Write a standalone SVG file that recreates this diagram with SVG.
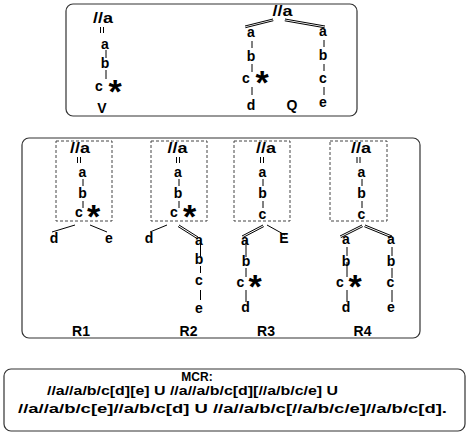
<svg xmlns="http://www.w3.org/2000/svg" width="466" height="435" viewBox="0 0 466 435">
  <style>
    text { font-family: "Liberation Sans", Arial, sans-serif; font-weight: bold; fill: #000; }
    .n { font-size: 14px; text-anchor: middle; }
    .star { font-size: 34px; text-anchor: middle; }
    .mcr { font-size: 12px; }
    .panel { fill: #fff; stroke: #333; stroke-width: 1.2; }
    .query { fill: none; stroke: #444; stroke-width: 1; stroke-dasharray: 3 2; }
    #edges line { stroke: #000; stroke-width: 1; }
  </style>

  <!-- panels -->
  <rect class="panel" x="66" y="4" width="291" height="112" rx="7"/>
  <rect class="panel" x="22" y="138" width="398" height="200" rx="7"/>
  <rect class="panel" x="4" y="369" width="461" height="62" rx="7"/>

  <!-- dashed query boxes -->
  <g id="queries">
    <rect class="query" x="56" y="141" width="56" height="80"/>
    <rect class="query" x="151" y="141" width="56" height="80"/>
    <rect class="query" x="234" y="141" width="56" height="80"/>
    <rect class="query" x="330" y="141" width="57" height="80"/>
  </g>

  <g id="edges">
    <!-- V -->
    <line x1="100.5" y1="27" x2="100.5" y2="33"/><line x1="103.5" y1="27" x2="103.5" y2="33"/>
    <line x1="106" y1="50" x2="106" y2="58"/>
    <line x1="106" y1="70" x2="106" y2="79"/>
    <!-- Q -->
    <line x1="245" y1="26" x2="273" y2="19"/><line x1="245.4" y1="27.7" x2="273.4" y2="20.7"/>
    <line x1="285" y1="19" x2="325" y2="26"/><line x1="284.7" y1="20.8" x2="324.7" y2="27.8"/>
    <line x1="252" y1="41" x2="252" y2="48"/>
    <line x1="252" y1="64" x2="252" y2="72"/>
    <line x1="252" y1="87" x2="252" y2="95"/>
    <line x1="324" y1="40" x2="324" y2="47"/>
    <line x1="324" y1="64" x2="324" y2="71"/>
    <line x1="324" y1="87" x2="324" y2="95"/>
    <!-- R1 -->
    <line x1="77.5" y1="157" x2="77.5" y2="163"/><line x1="80.5" y1="157" x2="80.5" y2="163"/>
    <line x1="83" y1="179" x2="83" y2="186"/>
    <line x1="83" y1="201" x2="83" y2="208"/>
    <line x1="52" y1="232" x2="75" y2="225"/>
    <line x1="90" y1="225" x2="107" y2="232"/>
    <!-- R2 -->
    <line x1="176.5" y1="157" x2="176.5" y2="163"/><line x1="179.5" y1="157" x2="179.5" y2="163"/>
    <line x1="179" y1="179" x2="179" y2="186"/>
    <line x1="179" y1="201" x2="179" y2="208"/>
    <line x1="150" y1="232" x2="167" y2="225"/>
    <line x1="179" y1="225" x2="198" y2="237"/><line x1="178" y1="226.5" x2="197" y2="238.5"/>
    <line x1="200.5" y1="238" x2="200.5" y2="256"/>
    <line x1="200.5" y1="266" x2="200.5" y2="273"/>
    <line x1="200.5" y1="290" x2="200.5" y2="300"/>
    <!-- R3 -->
    <line x1="260.5" y1="157" x2="260.5" y2="163"/><line x1="263.5" y1="157" x2="263.5" y2="163"/>
    <line x1="263" y1="179" x2="263" y2="186"/>
    <line x1="263" y1="201" x2="263" y2="208"/>
    <line x1="263" y1="225" x2="242" y2="236"/><line x1="263.8" y1="226.6" x2="242.8" y2="237.6"/>
    <line x1="267" y1="225" x2="285" y2="235"/>
    <line x1="246" y1="240" x2="246" y2="257"/>
    <line x1="246" y1="268" x2="246" y2="277"/>
    <line x1="246" y1="290" x2="246" y2="302"/>
    <!-- R4 -->
    <line x1="357" y1="157" x2="357" y2="163"/><line x1="360" y1="157" x2="360" y2="163"/>
    <line x1="362" y1="179" x2="362" y2="186"/>
    <line x1="362" y1="201" x2="362" y2="208"/>
    <line x1="362" y1="225" x2="340" y2="236"/><line x1="362.8" y1="226.6" x2="340.8" y2="237.6"/>
    <line x1="365" y1="225" x2="392" y2="236"/><line x1="364.3" y1="226.7" x2="391.3" y2="237.7"/>
    <line x1="347" y1="247" x2="347" y2="256"/>
    <line x1="347" y1="262" x2="347" y2="277"/>
    <line x1="347" y1="290" x2="347" y2="302"/>
    <line x1="392" y1="247" x2="392" y2="256"/>
    <line x1="392" y1="268" x2="392" y2="278"/>
    <line x1="392" y1="290" x2="392" y2="302"/>
  </g>

  <!-- V -->
  <g id="V">
    <g id="v-root"><text class="n" x="103" y="23" textLength="20" lengthAdjust="spacingAndGlyphs">//a</text></g>
    <g id="v-a"><text class="n" x="105" y="49">a</text></g>
    <g id="v-b"><text class="n" x="105" y="68">b</text></g>
    <g id="v-c"><text class="n" x="99" y="91">c</text><text class="star" x="115" y="103">*</text></g>
    <g id="v-label"><text class="n" x="102" y="113">V</text></g>
  </g>

  <!-- Q -->
  <g id="Q">
    <g id="q-root"><text class="n" x="282.5" y="16" textLength="20" lengthAdjust="spacingAndGlyphs">//a</text></g>
    <g id="q-a1"><text class="n" x="251" y="37">a</text></g>
    <g id="q-b1"><text class="n" x="251" y="61">b</text></g>
    <g id="q-c1"><text class="n" x="246" y="83">c</text><text class="star" x="262" y="94">*</text></g>
    <g id="q-d"><text class="n" x="251" y="110">d</text></g>
    <g id="q-a2"><text class="n" x="323" y="36">a</text></g>
    <g id="q-b2"><text class="n" x="323" y="60">b</text></g>
    <g id="q-c2"><text class="n" x="323" y="83">c</text></g>
    <g id="q-e"><text class="n" x="323" y="107">e</text></g>
    <g id="q-label"><text class="n" x="292" y="110">Q</text></g>
  </g>

  <!-- R1 -->
  <g id="R1">
    <g id="r1-root"><text class="n" x="80" y="153" textLength="20" lengthAdjust="spacingAndGlyphs">//a</text></g>
    <g id="r1-a"><text class="n" x="82.5" y="177">a</text></g>
    <g id="r1-b"><text class="n" x="82.5" y="198">b</text></g>
    <g id="r1-c"><text class="n" x="79" y="217">c</text><text class="star" x="93.5" y="227.5">*</text></g>
    <g id="r1-d"><text class="n" x="54" y="243">d</text></g>
    <g id="r1-e"><text class="n" x="109" y="243">e</text></g>
    <g id="r1-label"><text class="n" x="81" y="336">R1</text></g>
  </g>

  <!-- R2 -->
  <g id="R2">
    <g id="r2-root"><text class="n" x="177.5" y="153" textLength="20" lengthAdjust="spacingAndGlyphs">//a</text></g>
    <g id="r2-a"><text class="n" x="178" y="177">a</text></g>
    <g id="r2-b"><text class="n" x="178" y="198">b</text></g>
    <g id="r2-c"><text class="n" x="174" y="217">c</text><text class="star" x="189.5" y="227.5">*</text></g>
    <g id="r2-d"><text class="n" x="149" y="243">d</text></g>
    <g id="r2-a2"><text class="n" x="199" y="245">a</text></g>
    <g id="r2-b2"><text class="n" x="199" y="264">b</text></g>
    <g id="r2-c2"><text class="n" x="199" y="285">c</text></g>
    <g id="r2-e"><text class="n" x="199" y="313">e</text></g>
    <g id="r2-label"><text class="n" x="188.5" y="336">R2</text></g>
  </g>

  <!-- R3 -->
  <g id="R3">
    <g id="r3-root"><text class="n" x="266" y="153" textLength="20" lengthAdjust="spacingAndGlyphs">//a</text></g>
    <g id="r3-a"><text class="n" x="262.5" y="177">a</text></g>
    <g id="r3-b"><text class="n" x="262.5" y="198">b</text></g>
    <g id="r3-c"><text class="n" x="262.5" y="219">c</text></g>
    <g id="r3-a2"><text class="n" x="245" y="245">a</text></g>
    <g id="r3-E"><text class="n" x="284" y="243">E</text></g>
    <g id="r3-b2"><text class="n" x="246" y="266">b</text></g>
    <g id="r3-c2"><text class="n" x="240.5" y="287">c</text><text class="star" x="255" y="298">*</text></g>
    <g id="r3-d"><text class="n" x="245.5" y="312">d</text></g>
    <g id="r3-label"><text class="n" x="266" y="336">R3</text></g>
  </g>

  <!-- R4 -->
  <g id="R4">
    <g id="r4-root"><text class="n" x="361" y="153" textLength="20" lengthAdjust="spacingAndGlyphs">//a</text></g>
    <g id="r4-a"><text class="n" x="361.5" y="177">a</text></g>
    <g id="r4-b"><text class="n" x="361.5" y="198">b</text></g>
    <g id="r4-c"><text class="n" x="361.5" y="219">c</text></g>
    <g id="r4-a2"><text class="n" x="346" y="244">a</text></g>
    <g id="r4-b2"><text class="n" x="346" y="266">b</text></g>
    <g id="r4-c2"><text class="n" x="340" y="287">c</text><text class="star" x="355" y="298">*</text></g>
    <g id="r4-d"><text class="n" x="346" y="312">d</text></g>
    <g id="r4-a3"><text class="n" x="391" y="244">a</text></g>
    <g id="r4-b3"><text class="n" x="391" y="266">b</text></g>
    <g id="r4-c3"><text class="n" x="390.5" y="287">c</text></g>
    <g id="r4-e"><text class="n" x="391" y="312">e</text></g>
    <g id="r4-label"><text class="n" x="362.5" y="336">R4</text></g>
  </g>

  <!-- MCR expression -->
  <g id="MCR">
    <text class="mcr" x="197" y="381" text-anchor="middle">MCR:</text>
    <text class="mcr" x="47" y="395" textLength="291" lengthAdjust="spacingAndGlyphs">//a//a/b/c[d][e] U //a//a/b/c[d][//a/b/c/e] U</text>
    <text class="mcr" x="18" y="413" textLength="429" lengthAdjust="spacingAndGlyphs">//a//a/b/c[e]//a/b/c[d] U //a//a/b/c[//a/b/c/e]//a/b/c[d].</text>
  </g>
</svg>
